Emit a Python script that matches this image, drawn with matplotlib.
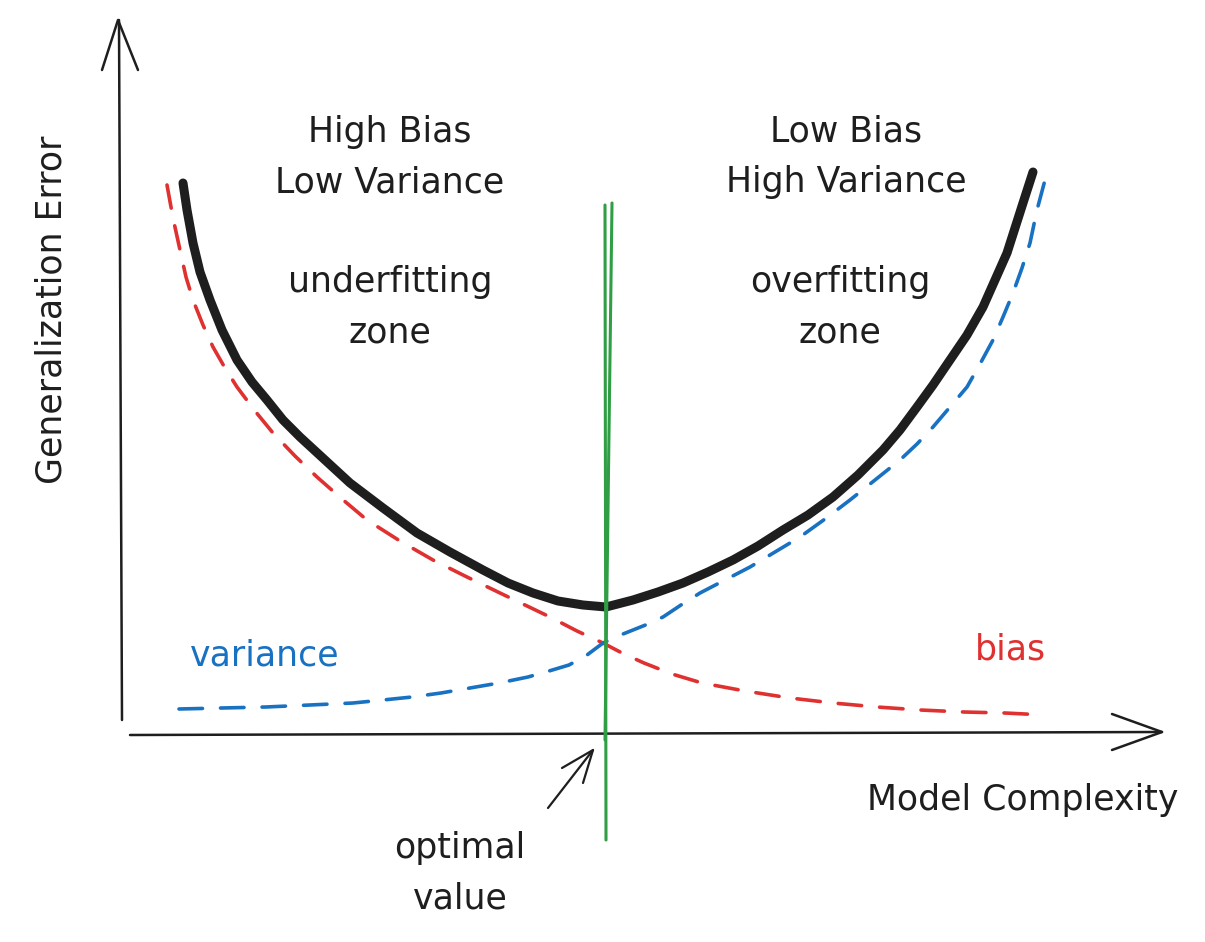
import matplotlib
matplotlib.use("Agg")
from matplotlib import pyplot as plt

# curves (x = complexity, y = error, both in picture units, y grows downwards)
total_x = [183, 187, 193, 200, 210, 222, 237, 252, 267, 283, 300, 325, 350, 383, 417, 450, 483, 508, 533, 558, 583, 606,
           633, 658, 683, 708, 733, 758, 783, 808, 833, 858, 883, 900, 917, 933, 950, 967, 983, 995, 1007, 1015, 1023, 1033]
total_y = [183, 210, 243, 272, 300, 330, 360, 382, 400, 420, 437, 460, 483, 508, 533, 552, 570, 583, 593, 601, 605, 607,
           600, 592, 583, 572, 560, 546, 530, 515, 497, 475, 450, 430, 407, 385, 360, 335, 307, 280, 253, 228, 203, 172]

bias_x = [167, 173, 180, 186, 193, 203, 213, 225, 237, 255, 273, 295, 317, 342, 367, 400, 433, 467, 500, 525, 550, 577,
          603, 622, 644, 672, 702, 745, 790, 833, 877, 920, 964, 1005, 1045]
bias_y = [185, 218, 250, 277, 300, 325, 347, 368, 387, 411, 433, 456, 477, 499, 520, 541, 560, 577, 593, 605, 617, 631,
          643, 653, 663, 674, 683, 691, 698, 703, 707, 710, 712, 713, 715]

var_x = [179, 222, 266, 310, 353, 383, 412, 441, 470, 499, 528, 549, 569, 587, 603, 618, 633, 648, 663, 681, 700, 725,
         750, 775, 800, 825, 850, 875, 900, 917, 933, 950, 967, 980, 993, 1003, 1013, 1022, 1030, 1037, 1041, 1045]
var_y = [709, 708, 707, 705, 703, 700, 697, 693, 688, 683, 677, 671, 665, 655, 643, 636, 630, 624, 617, 605, 593, 580,
         567, 552, 537, 519, 500, 480, 460, 444, 427, 407, 387, 364, 340, 317, 293, 268, 243, 210, 195, 180]

# optimal value marker (two green strokes)
opt_x1 = [605, 606]
opt_y1 = [205, 840]
opt_x2 = [612, 605]
opt_y2 = [203, 740]

BLACK = "#1e1e1e"
RED = "#e03131"
BLUE = "#1971c2"
GREEN = "#2f9e44"

plt.rcParams['font.family'] = ['DejaVu Sans']

fig = plt.figure(figsize=(12.05, 9.42), dpi=100)
ax = fig.add_axes([0, 0, 1, 1])
ax.set_xlim(0, 1205)
ax.set_ylim(942, 0)
ax.axis("off")

# axes with arrow heads
ax.plot([122, 119], [720, 20], color=BLACK, lw=1.8, solid_capstyle="round")
ax.plot([102, 118, 138], [70, 20, 70], color=BLACK, lw=1.8, solid_capstyle="round", solid_joinstyle="round")
ax.plot([130, 1162], [735, 732], color=BLACK, lw=1.8, solid_capstyle="round")
ax.plot([1112, 1162, 1112], [714, 732, 750], color=BLACK, lw=1.8, solid_capstyle="round", solid_joinstyle="round")

# curves
ax.plot(bias_x, bias_y, color=RED, lw=2.6, dashes=(6.5, 5), dash_capstyle="round", solid_joinstyle="round")
ax.plot(var_x, var_y, color=BLUE, lw=2.6, dashes=(6.5, 5), dash_capstyle="round", solid_joinstyle="round")
ax.plot(total_x, total_y, color=BLACK, lw=6.5, solid_capstyle="round", solid_joinstyle="round")

ax.plot(opt_x1, opt_y1, color=GREEN, lw=2.2, solid_capstyle="round")
ax.plot(opt_x2, opt_y2, color=GREEN, lw=2.2, solid_capstyle="round")

# little arrow pointing at the optimum
ax.plot([548, 593], [808, 750], color=BLACK, lw=1.6, solid_capstyle="round")
ax.plot([562, 593, 583], [768, 750, 783], color=BLACK, lw=1.6, solid_capstyle="round", solid_joinstyle="round")

fs = 25
ls = 1.6
ax.text(390, 157, "High Bias\nLow Variance", fontsize=fs, color=BLACK, ha="center", va="center", linespacing=ls)
ax.text(390, 307, "underfitting\nzone", fontsize=fs, color=BLACK, ha="center", va="center", linespacing=ls)
ax.text(846, 157, "Low Bias\nHigh Variance", fontsize=fs, color=BLACK, ha="center", va="center", linespacing=ls)
ax.text(840, 307, "overfitting\nzone", fontsize=fs, color=BLACK, ha="center", va="center", linespacing=ls)

ax.text(265, 655, "variance", fontsize=fs, color=BLUE, ha="center", va="center")
ax.text(1010, 650, "bias", fontsize=fs, color=RED, ha="center", va="center")

ax.text(52, 310, "Generalization Error", fontsize=fs, color=BLACK, ha="center", va="center", rotation=90)
ax.text(1023, 800, "Model Complexity", fontsize=fs, color=BLACK, ha="center", va="center")
ax.text(460, 873, "optimal\nvalue", fontsize=fs, color=BLACK, ha="center", va="center", linespacing=ls)

plt.savefig("out.png", dpi=100, facecolor="white")
plt.close()
